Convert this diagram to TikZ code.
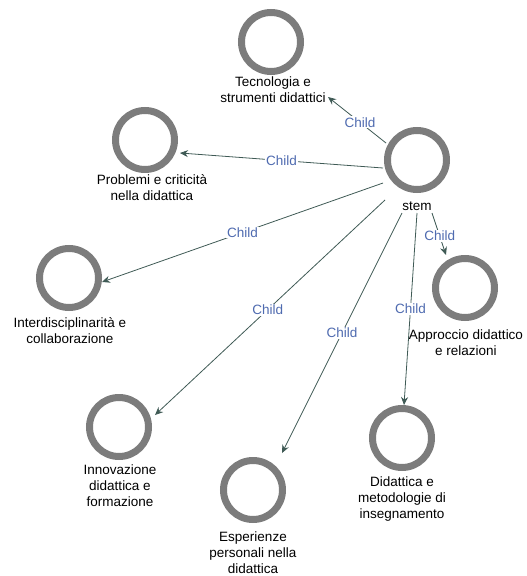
\documentclass[tikz,border=0pt]{standalone}
\usepackage{fontspec}
\setmainfont{Liberation Sans}
\usetikzlibrary{calc,arrows.meta}
\definecolor{ringgray}{HTML}{7C7C7C}
\definecolor{edgecol}{HTML}{3F5A55}
\definecolor{lblblue}{HTML}{4F6BB0}
\begin{document}
\begin{tikzpicture}[x=1pt,y=-1pt,
  ring/.style={circle,draw=ringgray,line width=7pt,fill=white,minimum size=59pt,inner sep=0pt},
  nlabel/.style={align=center,inner sep=0pt,font=\fontsize{13.5pt}{16pt}\selectfont},
  edge/.style={draw=edgecol,line width=0.8pt,-{Stealth[length=8pt,width=7pt]}},
  elabel/.style={text=lblblue,fill=white,inner sep=1pt,font=\fontsize{13.5pt}{16pt}\selectfont}]
\useasboundingbox (0,0) rectangle (527,576);
% nodes
\node[ring] (stem) at (417,160) {};
\node[nlabel] (stemlbl) at (417,206) {stem};
\node[ring] (tec) at (271,42) {};
\node[nlabel] (teclbl) at (273,90) {Tecnologia e\\strumenti didattici};
\node[ring] (prob) at (145,140) {};
\node[nlabel] (problbl) at (152,188) {Problemi e criticità\\nella didattica};
\node[ring] (inter) at (69,278) {};
\node[nlabel] (interlbl) at (70,331) {Interdisciplinarità e\\collaborazione};
\node[ring] (app) at (465,288) {};
\node[nlabel] (applbl) at (466,343) {Approccio didattico\\e relazioni};
\node[ring] (did) at (402,438) {};
\node[nlabel] (didlbl) at (402,499) {Didattica e\\metodologie di\\insegnamento};
\node[ring] (esp) at (253,490) {};
\node[nlabel] (esplbl) at (253,553) {Esperienze\\personali nella\\didattica};
\node[ring] (inn) at (119,427) {};
\node[nlabel] (innlbl) at (120,486) {Innovazione\\didattica e\\formazione};
% edges
\draw[edge] ($(stem)+(-31,-17)$) -- node[elabel,pos=0.45] {Child} ($(tec)+(57,55)$);
\draw[edge] ($(stem)+(-34,8)$) -- node[elabel,pos=0.5] {Child} ($(prob)+(35,13)$);
\draw[edge] ($(stem)+(-34,23)$) -- node[elabel,pos=0.5] {Child} ($(inter)+(33,4)$);
\draw[edge] ($(stem)+(-32,40)$) -- node[elabel,pos=0.51] {Child} ($(inn)+(36,-12)$);
\draw[edge] ($(stem)+(-15,53)$) -- node[elabel,pos=0.5] {Child} ($(esp)+(29,-37)$);
\draw[edge] ($(stem)+(0,53)$) -- node[elabel,pos=0.5] {Child} ($(did)+(2,-33)$);
\draw[edge] ($(stem)+(15,53)$) -- node[elabel,pos=0.55] {Child} ($(app)+(-19,-33)$);
\end{tikzpicture}
\end{document}
